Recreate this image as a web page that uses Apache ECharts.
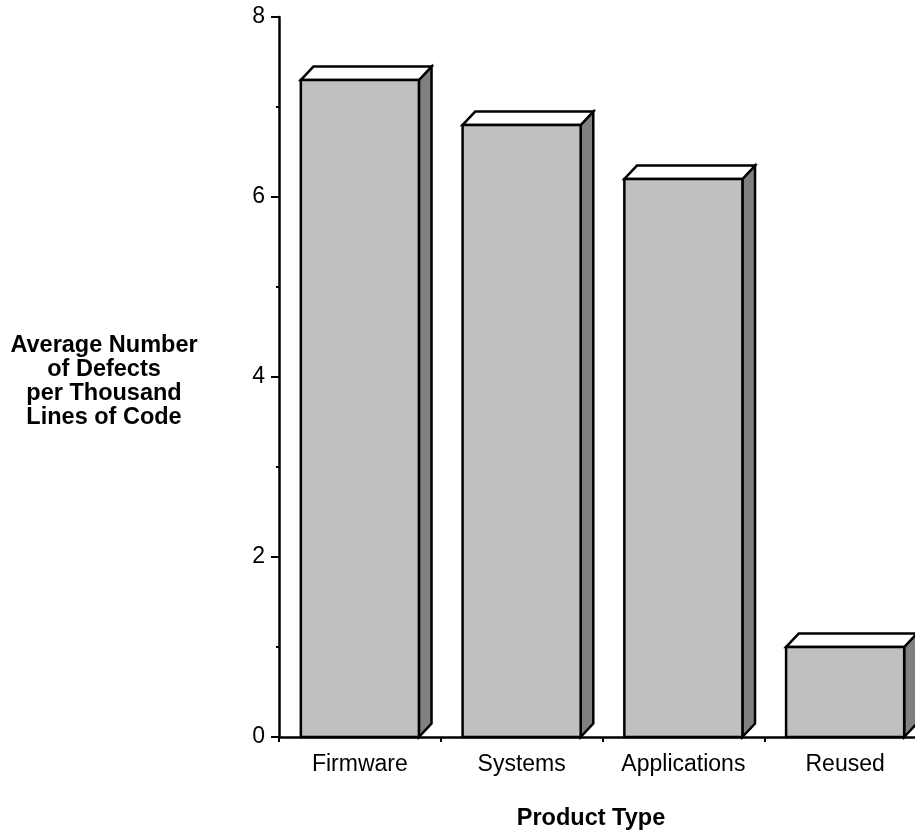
<!DOCTYPE html>
<html>
<head>
<meta charset="utf-8">
<script src="https://cdn.jsdelivr.net/npm/echarts@6/dist/echarts.min.js"></script>
<style>
html,body{margin:0;padding:0;background:#fff;overflow:hidden;width:915px;height:836px;}
#chart{width:926px;height:836px;}
</style>
</head>
<body>
<div id="chart"></div>
<script>
const categories = ['Firmware', 'Systems', 'Applications', 'Reused'];
const defects = [7.3, 6.8, 6.2, 1.0];
const yTicks = [0, 2, 4, 6, 8];

const FONT = '"Liberation Sans", Arial, sans-serif';
const chart = echarts.init(document.getElementById('chart'));

function renderBar3D(params, api) {
  const idx = api.value(0);
  const val = api.value(1);
  const base = api.coord([idx, 0]);
  const topPt = api.coord([idx, val]);
  const catW = api.size([1, 0])[0];
  const w = catW * 0.73;
  const dx = catW * 0.078;
  const dy = catW * 0.083;
  const x0 = base[0] - w / 2;
  const x1 = base[0] + w / 2;
  const yb = base[1];
  const yt = topPt[1];
  const stroke = { stroke: '#000', lineWidth: 2.5, lineJoin: 'miter' };
  return {
    type: 'group',
    children: [
      {
        type: 'polygon',
        shape: { points: [[x1, yb], [x1 + dx, yb - dy], [x1 + dx, yt - dy], [x1, yt]] },
        style: Object.assign({ fill: '#808080' }, stroke)
      },
      {
        type: 'polygon',
        shape: { points: [[x0, yt], [x1, yt], [x1 + dx, yt - dy], [x0 + dx, yt - dy]] },
        style: Object.assign({ fill: '#ffffff' }, stroke)
      },
      {
        type: 'rect',
        shape: { x: x0, y: yt, width: w, height: yb - yt },
        style: Object.assign({ fill: '#c0c0c0' }, stroke)
      }
    ]
  };
}

chart.setOption({
  animation: false,
  backgroundColor: '#ffffff',
  grid: { left: 279, right: 0, top: 17, bottom: 99, containLabel: false },
  xAxis: {
    type: 'category',
    data: categories,
    axisLine: { lineStyle: { color: '#000', width: 2.5 } },
    axisTick: { show: true, length: 5, lineStyle: { color: '#000', width: 2 } },
    axisLabel: { color: '#000', fontSize: 23, fontFamily: FONT, margin: 16, interval: 0 }
  },
  yAxis: {
    type: 'value',
    min: yTicks[0],
    max: yTicks[yTicks.length - 1],
    interval: yTicks[1] - yTicks[0],
    axisLine: { show: true, lineStyle: { color: '#000', width: 2.5 } },
    axisTick: { show: true, length: 8, lineStyle: { color: '#000', width: 2 } },
    minorTick: { show: true, splitNumber: 2, length: 3, lineStyle: { color: '#000', width: 2 } },
    splitLine: { show: false },
    axisLabel: { color: '#000', fontSize: 23, fontFamily: FONT, margin: 14 }
  },
  graphic: [
    {
      type: 'text',
      x: 104,
      y: 334,
      style: {
        text: 'Average Number\nof Defects\nper Thousand\nLines of Code',
        font: 'bold 23.5px ' + FONT,
        fill: '#000',
        align: 'center',
        verticalAlign: 'top',
        lineHeight: 24
      }
    },
    {
      type: 'text',
      x: 591,
      y: 819,
      style: {
        text: 'Product Type',
        font: 'bold 23.5px ' + FONT,
        fill: '#000',
        align: 'center',
        verticalAlign: 'middle'
      }
    }
  ],
  series: [{
    type: 'custom',
    renderItem: renderBar3D,
    data: defects.map((v, i) => [i, v]),
    encode: { x: 0, y: 1 },
    clip: false
  }]
});
</script>
</body>
</html>
